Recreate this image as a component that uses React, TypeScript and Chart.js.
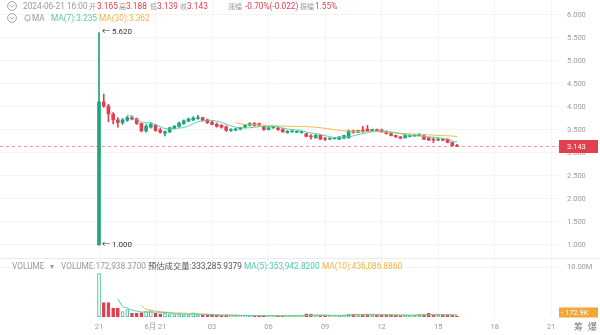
import React, { useEffect, useRef } from 'react';
import { Chart, registerables } from 'chart.js';

Chart.register(...registerables);

// ---- data (15-minute candles, starting 2024-06-20 21:00) ----
const opens = [
  1.000, 4.110, 4.020, 3.850, 3.720, 3.660, 3.710, 3.770, 3.740, 3.640,
  3.480, 3.560, 3.600, 3.500, 3.430, 3.460, 3.530, 3.580, 3.640, 3.690,
  3.720, 3.750, 3.770, 3.720, 3.670, 3.630, 3.600, 3.570, 3.490, 3.500,
  3.520, 3.560, 3.600, 3.640, 3.640, 3.580, 3.510, 3.550, 3.540, 3.520,
  3.440, 3.460, 3.450, 3.440, 3.420, 3.360, 3.330, 3.390, 3.310, 3.300,
  3.310, 3.300, 3.320, 3.330, 3.480, 3.450, 3.500, 3.520, 3.490, 3.500,
  3.500, 3.460, 3.420, 3.380, 3.350, 3.330, 3.360, 3.370, 3.380, 3.370,
  3.330, 3.290, 3.280, 3.290, 3.300, 3.230, 3.165,
];
const highs = [
  5.620, 4.280, 4.060, 3.880, 3.770, 3.750, 3.800, 3.810, 3.760, 3.650,
  3.620, 3.660, 3.620, 3.540, 3.480, 3.560, 3.600, 3.670, 3.720, 3.760,
  3.790, 3.820, 3.780, 3.740, 3.690, 3.650, 3.620, 3.590, 3.530, 3.540,
  3.560, 3.620, 3.660, 3.660, 3.650, 3.590, 3.570, 3.580, 3.560, 3.530,
  3.490, 3.490, 3.480, 3.470, 3.430, 3.400, 3.400, 3.400, 3.340, 3.330,
  3.340, 3.360, 3.390, 3.500, 3.500, 3.500, 3.580, 3.600, 3.520, 3.520,
  3.520, 3.480, 3.430, 3.390, 3.360, 3.390, 3.400, 3.400, 3.420, 3.390,
  3.340, 3.330, 3.320, 3.310, 3.310, 3.240, 3.188,
];
const lows = [
  1.000, 3.990, 3.680, 3.630, 3.560, 3.620, 3.690, 3.720, 3.620, 3.460,
  3.450, 3.540, 3.470, 3.430, 3.370, 3.440, 3.520, 3.560, 3.620, 3.680,
  3.700, 3.730, 3.690, 3.640, 3.610, 3.560, 3.540, 3.470, 3.470, 3.480,
  3.500, 3.550, 3.590, 3.580, 3.590, 3.490, 3.500, 3.530, 3.490, 3.450,
  3.430, 3.450, 3.440, 3.430, 3.350, 3.300, 3.320, 3.290, 3.270, 3.290,
  3.300, 3.290, 3.310, 3.320, 3.430, 3.440, 3.450, 3.470, 3.470, 3.470,
  3.450, 3.410, 3.370, 3.340, 3.310, 3.320, 3.350, 3.360, 3.370, 3.290,
  3.270, 3.220, 3.270, 3.260, 3.220, 3.150, 3.139,
];
const closes = [
  4.110, 4.020, 3.850, 3.720, 3.660, 3.720, 3.770, 3.740, 3.640, 3.480,
  3.580, 3.620, 3.490, 3.450, 3.460, 3.550, 3.580, 3.650, 3.700, 3.740,
  3.760, 3.770, 3.710, 3.660, 3.620, 3.580, 3.560, 3.490, 3.500, 3.520,
  3.550, 3.600, 3.640, 3.600, 3.610, 3.510, 3.550, 3.560, 3.510, 3.460,
  3.470, 3.470, 3.470, 3.460, 3.360, 3.350, 3.390, 3.300, 3.300, 3.320,
  3.330, 3.350, 3.380, 3.480, 3.450, 3.490, 3.460, 3.480, 3.500, 3.490,
  3.460, 3.420, 3.380, 3.350, 3.320, 3.380, 3.380, 3.390, 3.400, 3.300,
  3.280, 3.280, 3.300, 3.280, 3.230, 3.160, 3.143,
];
const volumes = [
  8700000, 2870000, 2870000, 1780000, 1780000, 1100000, 1500000, 770000, 770000, 900000,
  1100000, 1300000, 770000, 640000, 770000, 640000, 500000, 570000, 500000, 500000,
  850000, 420000, 420000, 380000, 360000, 330000, 300000, 320000, 280000, 300000,
  260000, 280000, 300000, 270000, 250000, 280000, 240000, 260000, 250000, 230000,
  240000, 220000, 250000, 230000, 620000, 580000, 300000, 280000, 260000, 250000,
  270000, 300000, 330000, 600000, 580000, 550000, 500000, 480000, 450000, 420000,
  400000, 380000, 350000, 330000, 300000, 320000, 340000, 400000, 550000, 500000,
  720000, 420000, 330000, 450000, 420000, 400000, 172938.37,
];
const priceTicks = [1.0, 1.5, 2.0, 2.5, 3.0, 3.5, 4.0, 4.5, 5.0, 5.5, 6.0];
const volTicks = [10000000];
const xTickIdx = [0, 12, 24, 36, 48, 60, 72, 84, 96];
const xTickLabels = ['21', '6月 21', '03', '06', '09', '12', '15', '18', '21'];

const UP = '#1ea57b';
const DOWN = '#e2404f';
const MA_A = '#4fcbb0';
const MA_B = '#f2b43d';
const GRAY = '#9a9a9a';
const FONT = 'Roboto, "Noto Sans CJK SC", sans-serif';

function sma(arr: number[], n: number) {
  const out: { x: number; y: number }[] = [];
  for (let i = n - 1; i < arr.length; i++) {
    let s = 0;
    for (let k = i - n + 1; k <= i; k++) s += arr[k];
    out.push({ x: i, y: s / n });
  }
  return out;
}

const isUp = (i: number) => closes[i] >= opens[i];

const noPad = (s: any) => {
  s.paddingTop = 0;
  s.paddingBottom = 0;
  s.paddingLeft = 0;
  s.paddingRight = 0;
};

const overlayPlugin = {
  id: 'overlay',
  afterDraw(chart: any) {
    const { ctx, chartArea, scales } = chart;
    const y = scales.y;
    const yv = scales.yv;
    const x = scales.x;
    ctx.save();
    // pane separator
    ctx.strokeStyle = '#ececec';
    ctx.lineWidth = 1;
    ctx.beginPath();
    ctx.moveTo(0, Math.round(y.bottom) + 0.5);
    ctx.lineTo(chart.width, Math.round(y.bottom) + 0.5);
    ctx.stroke();

    // current price dashed line
    const last = closes[closes.length - 1];
    const py = Math.round(y.getPixelForValue(last)) + 0.5;
    ctx.strokeStyle = 'rgba(226,64,79,0.55)';
    ctx.setLineDash([3, 3]);
    ctx.beginPath();
    ctx.moveTo(chartArea.left, py);
    ctx.lineTo(chartArea.right, py);
    ctx.stroke();
    ctx.setLineDash([]);

    // price tag
    ctx.fillStyle = DOWN;
    ctx.fillRect(chartArea.right, py - 6.5, 39, 13);
    ctx.fillStyle = '#ffffff';
    ctx.font = `7.5px ${FONT}`;
    ctx.textBaseline = 'middle';
    ctx.textAlign = 'left';
    ctx.fillText(last.toFixed(3), chartArea.right + 8, py + 0.5);

    // volume tag
    const lv = volumes[volumes.length - 1];
    const vy = Math.min(yv.getPixelForValue(lv), chartArea.bottom - 4.5);
    ctx.fillStyle = '#f4a637';
    ctx.fillRect(chartArea.right, vy - 5, 39, 10);
    ctx.fillStyle = '#ffffff';
    ctx.fillText('- ' + (lv / 1000).toFixed(1) + 'K', chartArea.right + 2, vy + 0.5);

    // max / min markers
    let hi = 0, lo = 0;
    for (let i = 0; i < highs.length; i++) {
      if (highs[i] > highs[hi]) hi = i;
      if (lows[i] < lows[lo]) lo = i;
    }
    ctx.fillStyle = '#333333';
    ctx.font = `8px ${FONT}`;
    const hx = x.getPixelForValue(hi) + 3;
    ctx.fillText('← ' + highs[hi].toFixed(3), hx, y.getPixelForValue(highs[hi]));
    const lx = x.getPixelForValue(lo) + 3;
    ctx.fillText('← ' + lows[lo].toFixed(3), lx, y.getPixelForValue(lows[lo]));
    ctx.restore();
  },
};

function CircleIcon() {
  return (
    <svg width="10" height="10" viewBox="0 0 10 10" style={{ display: 'block' }}>
      <circle cx="5" cy="5" r="4.4" fill="none" stroke="#9a9a9a" strokeWidth="0.9" />
      <path d="M3 4.2 L5 6.2 L7 4.2" fill="none" stroke="#9a9a9a" strokeWidth="0.9" />
    </svg>
  );
}

function BellIcon() {
  return (
    <svg width="7" height="8" viewBox="0 0 7 8" style={{ display: 'block' }}>
      <path d="M1 6 L1 3.5 Q1 1 3.5 1 Q6 1 6 3.5 L6 6 Z" fill="none" stroke="#9a9a9a" strokeWidth="0.8" />
      <path d="M2.6 7 L4.4 7" stroke="#9a9a9a" strokeWidth="0.8" />
    </svg>
  );
}

const T = (left: number, top: number, text: string, color: string, size = 8.3) => (
  <span
    style={{
      position: 'absolute',
      left,
      top,
      fontSize: size,
      lineHeight: '10px',
      color,
      whiteSpace: 'nowrap',
      fontFamily: FONT,
    }}
  >
    {text}
  </span>
);

export default function App() {
  const ref = useRef<HTMLCanvasElement>(null);

  useEffect(() => {
    document.body.style.margin = '0';
    const canvas = ref.current!;
    const n = closes.length;
    const idx = Array.from({ length: n }, (_, i) => i);

    const chart = new Chart(canvas, {
      type: 'bar',
      data: {
        datasets: [
          {
            type: 'line',
            yAxisID: 'y',
            data: sma(closes, 7),
            borderColor: MA_A,
            borderWidth: 1,
            pointRadius: 0,
            tension: 0.2,
            order: 0,
          } as any,
          {
            type: 'line',
            yAxisID: 'y',
            data: sma(closes, 30),
            borderColor: MA_B,
            borderWidth: 1,
            pointRadius: 0,
            tension: 0.2,
            order: 0,
          } as any,
          {
            type: 'bar',
            yAxisID: 'y',
            data: idx.map((i) => ({ x: i, y: [opens[i], closes[i]] })),
            backgroundColor: idx.map((i) => (isUp(i) ? UP : DOWN)),
            barThickness: 3,
            grouped: false,
            minBarLength: 1,
            order: 1,
          } as any,
          {
            type: 'bar',
            yAxisID: 'y',
            data: idx.map((i) => ({ x: i, y: [lows[i], highs[i]] })),
            backgroundColor: idx.map((i) => (isUp(i) ? UP : DOWN)),
            barThickness: 1,
            grouped: false,
            minBarLength: 1,
            order: 2,
          } as any,
          {
            type: 'bar',
            yAxisID: 'yv',
            data: idx.map((i) => ({ x: i, y: volumes[i] })),
            backgroundColor: idx.map((i) => (isUp(i) ? '#ffffff' : DOWN)),
            borderColor: idx.map((i) => (isUp(i) ? '#3cbf9c' : DOWN)),
            borderWidth: 1,
            borderSkipped: false,
            barThickness: 3,
            grouped: false,
            order: 3,
          } as any,
          {
            type: 'line',
            yAxisID: 'yv',
            data: sma(volumes, 5),
            borderColor: MA_A,
            borderWidth: 1,
            pointRadius: 0,
            tension: 0.2,
            order: 0,
          } as any,
          {
            type: 'line',
            yAxisID: 'yv',
            data: sma(volumes, 10),
            borderColor: MA_B,
            borderWidth: 1,
            pointRadius: 0,
            tension: 0.2,
            order: 0,
          } as any,
        ],
      },
      options: {
        animation: false,
        responsive: false,
        maintainAspectRatio: false,
        layout: { autoPadding: false, padding: { top: 0, bottom: 0, left: 0, right: 0 } },
        plugins: { legend: { display: false }, tooltip: { enabled: false } },
        scales: {
          x: {
            type: 'linear',
            min: -21.02,
            max: 97.66,
            offset: false,
            grid: { color: '#f4f4f4', drawTicks: false, offset: false },
            border: { display: false },
            ticks: {
              color: GRAY,
              font: { size: 7.5, family: FONT },
              padding: 6,
              maxRotation: 0,
              autoSkip: false,
              callback: (v: any) => {
                const k = xTickIdx.indexOf(Number(v));
                return k >= 0 ? xTickLabels[k] : '';
              },
            },
            afterBuildTicks: (s: any) => {
              s.ticks = xTickIdx.map((v) => ({ value: v }));
            },
            afterFit: (s: any) => {
              s.height = 18;
              noPad(s);
            },
          },
          y: {
            type: 'linear',
            position: 'right',
            stack: 'pane',
            stackWeight: 258,
            min: 0.717,
            max: 6.326,
            grid: { color: '#f4f4f4', drawTicks: false },
            border: { display: false },
            ticks: {
              color: GRAY,
              font: { size: 7.5, family: FONT },
              padding: 8,
              callback: (v: any) => Number(v).toFixed(3),
            },
            afterBuildTicks: (s: any) => {
              s.ticks = priceTicks.map((v) => ({ value: v }));
            },
            afterFit: (s: any) => {
              s.width = 41;
              noPad(s);
            },
          },
          yv: {
            type: 'linear',
            position: 'right',
            stack: 'pane',
            stackWeight: 59,
            min: 0,
            max: 11800000,
            grid: { color: '#f4f4f4', drawTicks: false },
            border: { display: false },
            ticks: {
              color: GRAY,
              font: { size: 7.5, family: FONT },
              padding: 8,
              callback: (v: any) => (Number(v) / 1e6).toFixed(2) + 'M',
            },
            afterBuildTicks: (s: any) => {
              s.ticks = volTicks.map((v) => ({ value: v }));
            },
            afterFit: (s: any) => {
              s.width = 41;
              noPad(s);
            },
          },
        },
      } as any,
      plugins: [overlayPlugin],
    });
    return () => chart.destroy();
  }, []);

  return (
    <div style={{ position: 'relative', width: 600, height: 335, background: '#fff', overflow: 'hidden' }}>
      <canvas ref={ref} width={600} height={335} style={{ position: 'absolute', left: 0, top: 0 }} />
      {/* header line 1 */}
      <div style={{ position: 'absolute', left: 7, top: 1 }}><CircleIcon /></div>
      {T(23, 1, '2024-06-21 16:00', GRAY)}
      {T(89, 1.5, '开', GRAY, 7)}
      {T(97, 1, '3.165', DOWN)}
      {T(119, 1.5, '高', GRAY, 7)}
      {T(126, 1, '3.188', DOWN)}
      {T(150, 1.5, '低', GRAY, 7)}
      {T(157, 1, '3.139', DOWN)}
      {T(180, 1.5, '收', GRAY, 7)}
      {T(187, 1, '3.143', DOWN)}
      {T(228, 1.5, '涨幅', GRAY, 7)}
      {T(245, 1, '-0.70%(-0.022)', DOWN)}
      {T(300, 1.5, '振幅', GRAY, 7)}
      {T(315, 1, '1.55%', DOWN)}
      {/* header line 2 */}
      <div style={{ position: 'absolute', left: 7, top: 13 }}><CircleIcon /></div>
      <div style={{ position: 'absolute', left: 24, top: 14 }}><BellIcon /></div>
      {T(32, 13, 'MA', GRAY)}
      {T(51, 13, 'MA(7):3.235', MA_A)}
      {T(99, 13, 'MA(30):3.362', MA_B)}
      {/* volume header */}
      {T(12, 261, 'VOLUME', GRAY)}
      {T(50, 261, '▾', GRAY)}
      {T(61, 261, 'VOLUME:172,938.3700', GRAY)}
      {T(148, 261, '预估成交量:333,285.9379', '#555555')}
      {T(244, 261, 'MA(5):353,942.8200', MA_A)}
      {T(322, 261, 'MA(10):436,086.8860', MA_B)}
      {/* bottom-right icons */}
      {T(574, 322, '筹', '#777777', 9)}
      {T(588, 322, '爆', '#777777', 9)}
    </div>
  );
}
